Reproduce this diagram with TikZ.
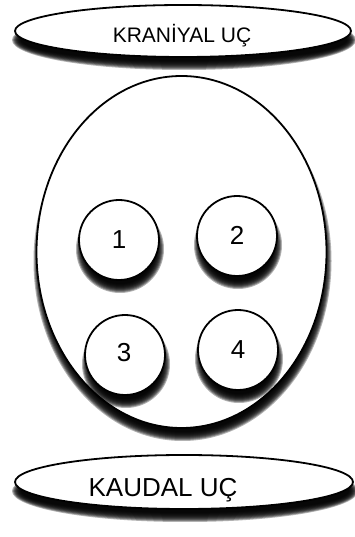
\documentclass[tikz,border=0pt]{standalone}
\usepackage{fontspec}
\setmainfont{Liberation Sans}
\usetikzlibrary{shapes.geometric}
\newcommand\dropshade[4]{%
  \foreach \k in {0,...,9}{%
    \fill[black, opacity=0.3] (#1+1,#2-9) ellipse [x radius=#3-5+\k, y radius=#4-5+\k];
  }%
}
\tikzset{
  oval/.style={ellipse, draw=black, line width=1.8pt, fill=white, inner sep=0pt},
  disc/.style={circle, draw=black, line width=1.8pt, fill=white, inner sep=0pt, minimum size=80pt},
  lbl/.style={inner sep=0pt, text=black}
}
\begin{document}
\begin{tikzpicture}[x=1pt,y=1pt]
\useasboundingbox (0,0) rectangle (355,537);
\dropshade{183}{506}{168}{26}
\node[oval, minimum width=336pt, minimum height=52pt] (top) at (183,506) {};
\node[lbl, font=\fontsize{21}{24}\selectfont] (toptext) at (182,501) {KRANİYAL UÇ};
\dropshade{181.5}{285}{145}{176}
\node[oval, minimum width=290pt, minimum height=352pt] (body) at (181.5,285) {};
\dropshade{119}{297}{40}{40}
\dropshade{237}{301}{40}{40}
\dropshade{125}{182}{40}{40}
\dropshade{238}{187}{40}{40}
\node[disc] (c1) at (119,297) {};
\node[disc] (c2) at (237,301) {};
\node[disc] (c3) at (125,182) {};
\node[disc] (c4) at (238,187) {};
\node[lbl, font=\fontsize{26}{30}\selectfont] (t1) at (119,297) {1};
\node[lbl, font=\fontsize{26}{30}\selectfont] (t2) at (237,302) {2};
\node[lbl, font=\fontsize{26}{30}\selectfont] (t3) at (124,184) {3};
\node[lbl, font=\fontsize{26}{30}\selectfont] (t4) at (238,187) {4};
\dropshade{184}{55}{169}{27}
\node[oval, minimum width=338pt, minimum height=54pt] (bot) at (184,55) {};
\node[lbl, font=\fontsize{26}{30}\selectfont] (bottext) at (163,47) {KAUDAL UÇ};
\end{tikzpicture}
\end{document}
